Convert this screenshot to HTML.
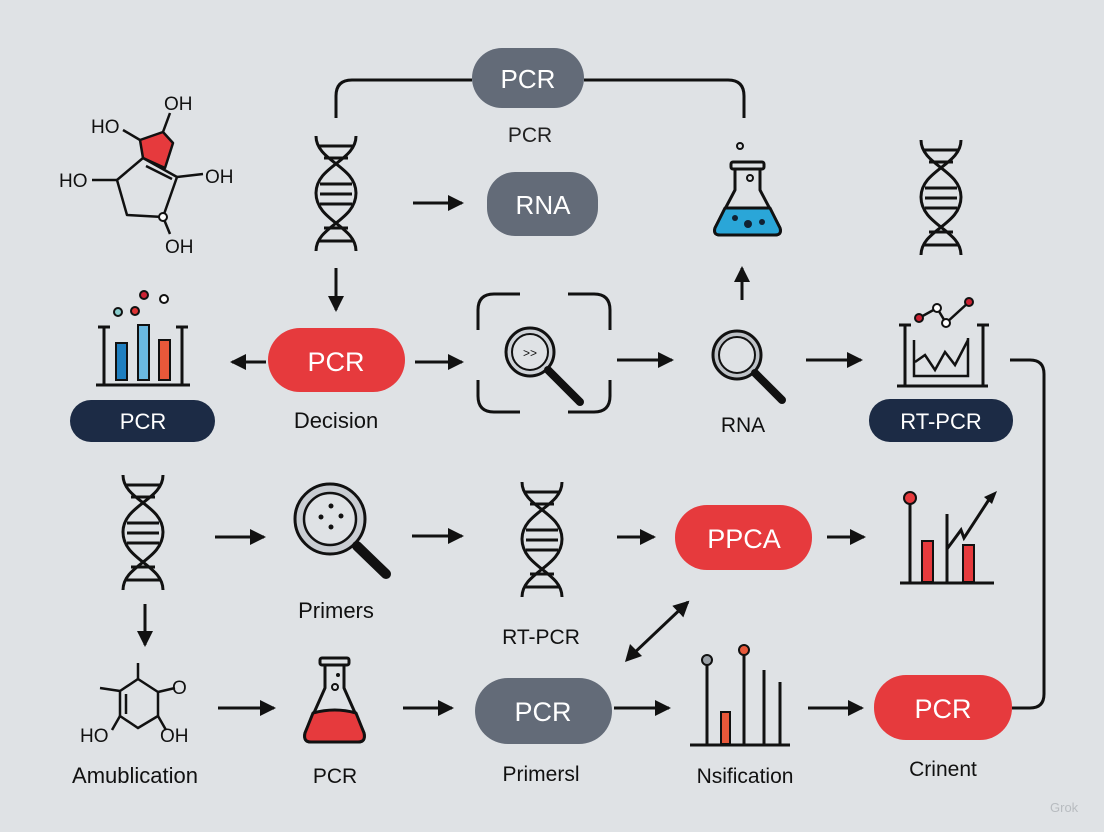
<!DOCTYPE html>
<html><head><meta charset="utf-8"><style>
html,body{margin:0;padding:0;background:#dfe2e5}
svg{display:block}
text{font-family:"Liberation Sans",sans-serif}
</style></head><body>
<svg width="1104" height="832" viewBox="0 0 1104 832" xmlns="http://www.w3.org/2000/svg">
<defs>
<marker id="ah2" markerWidth="16" markerHeight="16" refX="14" refY="8" orient="auto" markerUnits="userSpaceOnUse"><path d="M0,0 L16,8 L0,16 z" fill="#111"/></marker>
<g id="dna" fill="none" stroke="#111" stroke-width="3">
<path d="M0,0 C0,25 40,30 40,57 C40,85 0,90 0,115"/>
<path d="M40,0 C40,25 0,30 0,57 C0,85 40,90 40,115"/>
<path d="M2,10 H38 M8,22 H32 M4,48 H36 M4,58 H36 M4,68 H36 M8,92 H32 M2,105 H38"/>
</g>
</defs>
<rect width="1104" height="832" fill="#dfe2e5"/>

<path d="M336,118 V96 Q336,80 352,80 H472 M584,80 H728 Q744,80 744,96 V118" fill="none" stroke="#111" stroke-width="3"/>
<rect x="472" y="48" width="112" height="60" rx="30" fill="#636b78"/>
<text x="528" y="88" font-size="26" fill="#fff" text-anchor="middle">PCR</text>
<text x="530" y="142" font-size="21" fill="#222" text-anchor="middle">PCR</text>

<use href="#dna" x="316" y="136"/>
<line x1="413" y1="203" x2="462" y2="203" stroke="#111" stroke-width="3" marker-end="url(#ah2)"/>
<rect x="487" y="172" width="111" height="64" rx="28" fill="#636b78"/>
<text x="543" y="214" font-size="26" fill="#fff" text-anchor="middle">RNA</text>

<g stroke="#111" stroke-width="3" stroke-linejoin="round">
<path d="M735,168 V190 L715,228 Q713,235 720,235 H775 Q782,235 780,228 L760,190 V168 Z" fill="#dfe2e5"/>
<path d="M725,208 L770,208 L780,228 Q782,235 775,235 H720 Q713,235 715,228 Z" fill="#2aa6d8"/>
<rect x="731" y="162" width="33" height="7" rx="2" fill="#dfe2e5"/>
</g>
<circle cx="740" cy="146" r="3" fill="none" stroke="#111" stroke-width="2"/>
<circle cx="750" cy="178" r="3" fill="none" stroke="#111" stroke-width="2"/>
<circle cx="748" cy="224" r="4" fill="#123" /><circle cx="735" cy="218" r="3" fill="#123"/><circle cx="762" cy="222" r="3" fill="#123"/>

<use href="#dna" x="921" y="140"/>

<!-- molecule top-left -->
<g fill="none" stroke="#111" stroke-width="2.5" stroke-linejoin="round">
<path d="M140,140 L163,132 L173,143 L165,168 L143,158 Z" fill="#e63a3d"/>
<path d="M143,158 L117,180 L127,215 L163,217 L177,177 Z"/>
<path d="M146,166 L172,179"/>
<path d="M117,180 L92,180 M177,177 L203,174 M140,140 L123,130 M163,132 L170,113 M163,217 L170,234"/>
</g>
<circle cx="163" cy="217" r="4" fill="#fff" stroke="#111" stroke-width="2"/>
<g font-size="19" fill="#111">
<text x="91" y="133">HO</text><text x="164" y="110">OH</text>
<text x="59" y="187">HO</text><text x="205" y="183">OH</text>
<text x="165" y="253">OH</text></g>

<line x1="336" y1="268" x2="336" y2="310" stroke="#111" stroke-width="3" marker-end="url(#ah2)"/>

<g stroke="#111" stroke-width="3">
<path d="M104,327 V385 M98,327 H110 M182,327 V385 M176,327 H188 M96,385 H190" fill="none"/>
<rect x="116" y="343" width="11" height="37" fill="#1f7fc0" stroke-width="2"/>
<rect x="138" y="325" width="11" height="55" fill="#6ab8e0" stroke-width="2"/>
<rect x="159" y="340" width="11" height="40" fill="#e8583a" stroke-width="2"/>
</g>
<g stroke="#111" stroke-width="2"><circle cx="118" cy="312" r="4" fill="#8cc"/><circle cx="135" cy="311" r="4" fill="#d33"/><circle cx="144" cy="295" r="4" fill="#c23"/><circle cx="164" cy="299" r="4" fill="#fff"/></g>
<rect x="70" y="400" width="145" height="42" rx="21" fill="#1c2b45"/>
<text x="143" y="429" font-size="22" fill="#fff" text-anchor="middle">PCR</text>

<line x1="266" y1="362" x2="232" y2="362" stroke="#111" stroke-width="3" marker-end="url(#ah2)"/>
<rect x="268" y="328" width="137" height="64" rx="32" fill="#e63a3d"/>
<text x="336" y="371" font-size="27" fill="#fff" text-anchor="middle">PCR</text>
<text x="336" y="428" font-size="22" fill="#111" text-anchor="middle">Decision</text>
<line x1="415" y1="362" x2="462" y2="362" stroke="#111" stroke-width="3" marker-end="url(#ah2)"/>

<g fill="none" stroke="#111" stroke-width="3">
<path d="M478,330 V310 Q478,294 494,294 H520 M568,294 H594 Q610,294 610,310 V330 M478,380 V396 Q478,412 494,412 H520 M568,412 H594 Q610,412 610,396 V380"/>
<circle cx="530" cy="352" r="24" fill="#cfd3d8" stroke-width="3"/>
<circle cx="530" cy="352" r="18" fill="#dfe2e5" stroke-width="2"/>
<line x1="548" y1="370" x2="580" y2="402" stroke-width="8" stroke-linecap="round"/>
</g>
<text x="530" y="357" font-size="12" fill="#111" text-anchor="middle">&gt;&gt;</text>

<line x1="617" y1="360" x2="672" y2="360" stroke="#111" stroke-width="3" marker-end="url(#ah2)"/>
<line x1="742" y1="300" x2="742" y2="268" stroke="#111" stroke-width="3" marker-end="url(#ah2)"/>

<g fill="none" stroke="#111">
<circle cx="737" cy="355" r="24" fill="#bfc3c8" stroke-width="3"/>
<circle cx="737" cy="355" r="18" fill="#dfe2e5" stroke-width="2"/>
<line x1="755" y1="373" x2="782" y2="400" stroke-width="8" stroke-linecap="round"/>
</g>
<text x="743" y="432" font-size="21" fill="#111" text-anchor="middle">RNA</text>
<line x1="806" y1="360" x2="861" y2="360" stroke="#111" stroke-width="3" marker-end="url(#ah2)"/>

<g fill="none" stroke="#111" stroke-width="3">
<path d="M905,325 V385 M899,325 H911 M983,325 V385 M977,325 H989 M897,386 H988"/>
<path d="M914,340 V376 H968 V338" stroke-width="2.5"/>
<path d="M915,362 L925,355 L935,370 L945,352 L955,365 L968,340" stroke-width="2.5"/>
<path d="M919,318 L937,308 L946,323 L969,302" stroke-width="2.5"/>
</g>
<g stroke="#111" stroke-width="2"><circle cx="919" cy="318" r="4" fill="#c23"/><circle cx="937" cy="308" r="4" fill="#fff"/><circle cx="946" cy="323" r="4" fill="#fff"/><circle cx="969" cy="302" r="4" fill="#c23"/></g>
<rect x="869" y="399" width="144" height="43" rx="21" fill="#1c2b45"/>
<text x="941" y="429" font-size="22" fill="#fff" text-anchor="middle">RT-PCR</text>

<path d="M1010,360 H1030 Q1044,360 1044,374 V694 Q1044,708 1030,708 H1012" fill="none" stroke="#111" stroke-width="3"/>

<use href="#dna" x="123" y="475"/>
<line x1="215" y1="537" x2="264" y2="537" stroke="#111" stroke-width="3" marker-end="url(#ah2)"/>
<g fill="none" stroke="#111">
<circle cx="330" cy="519" r="35" fill="#c9cdd2" stroke-width="3"/>
<circle cx="330" cy="519" r="26" fill="#dfe2e5" stroke-width="2.5"/>
<line x1="357" y1="546" x2="386" y2="574" stroke-width="10" stroke-linecap="round"/>
</g>
<g fill="#111"><circle cx="331" cy="506" r="2.5"/><circle cx="321" cy="517" r="2.5"/><circle cx="341" cy="516" r="2.5"/><circle cx="331" cy="527" r="2.5"/></g>
<text x="336" y="618" font-size="22" fill="#111" text-anchor="middle">Primers</text>
<line x1="412" y1="536" x2="462" y2="536" stroke="#111" stroke-width="3" marker-end="url(#ah2)"/>
<use href="#dna" x="522" y="482"/>
<text x="541" y="644" font-size="21" fill="#111" text-anchor="middle">RT-PCR</text>
<line x1="617" y1="537" x2="654" y2="537" stroke="#111" stroke-width="3" marker-end="url(#ah2)"/>
<rect x="675" y="505" width="137" height="65" rx="32" fill="#e63a3d"/>
<text x="744" y="548" font-size="27" fill="#fff" text-anchor="middle">PPCA</text>
<line x1="827" y1="537" x2="864" y2="537" stroke="#111" stroke-width="3" marker-end="url(#ah2)"/>

<g stroke="#111" stroke-width="3" fill="none">
<path d="M900,583 H994 M910,502 V583 M947,514 V583"/>
<path d="M947,549 L961,530 L964,538 L990,498"/>
<rect x="922" y="541" width="11" height="41" fill="#e63a3d" stroke-width="2"/>
<rect x="963" y="545" width="11" height="37" fill="#e63a3d" stroke-width="2"/>
</g>
<path d="M997,491 L984,497 L992,504 Z" fill="#111"/>
<circle cx="910" cy="498" r="6" fill="#e63a3d" stroke="#111" stroke-width="2"/>

<line x1="632" y1="655" x2="688" y2="602" stroke="#111" stroke-width="3" marker-end="url(#ah2)"/>
<path d="M625,662 L630,644 L642,656 Z" fill="#111"/>

<line x1="145" y1="604" x2="145" y2="645" stroke="#111" stroke-width="3" marker-end="url(#ah2)"/>
<g fill="none" stroke="#111" stroke-width="2.5">
<path d="M138,679 L158,692 L158,716 L138,728 L120,716 L120,691 Z"/>
<path d="M126,694 L126,714 M138,679 V663 M120,691 L100,688 M158,692 L175,688 M158,716 L166,730 M120,716 L112,730"/>
</g>
<g font-size="19" fill="#111"><text x="172" y="694">O</text><text x="80" y="742">HO</text><text x="160" y="742">OH</text></g>
<text x="135" y="783" font-size="22" fill="#111" text-anchor="middle">Amublication</text>
<line x1="218" y1="708" x2="274" y2="708" stroke="#111" stroke-width="3" marker-end="url(#ah2)"/>

<g stroke="#111" stroke-width="3" stroke-linejoin="round">
<path d="M325,663 V688 L305,733 Q303,742 311,742 H358 Q366,742 364,733 L344,688 V663 Z" fill="#dfe2e5"/>
<path d="M313,713 Q335,707 356,713 L364,733 Q366,742 358,742 H311 Q303,742 305,733 Z" fill="#e63a3d"/>
<rect x="320" y="658" width="29" height="7" rx="2" fill="#dfe2e5"/>
</g>
<circle cx="338" cy="675" r="2" fill="#111"/><circle cx="335" cy="687" r="3" fill="none" stroke="#111" stroke-width="2"/>
<text x="335" y="783" font-size="21" fill="#111" text-anchor="middle">PCR</text>
<line x1="403" y1="708" x2="452" y2="708" stroke="#111" stroke-width="3" marker-end="url(#ah2)"/>
<rect x="475" y="678" width="137" height="66" rx="33" fill="#636b78"/>
<text x="543" y="721" font-size="27" fill="#fff" text-anchor="middle">PCR</text>
<text x="541" y="781" font-size="21" fill="#111" text-anchor="middle">Primersl</text>
<line x1="614" y1="708" x2="669" y2="708" stroke="#111" stroke-width="3" marker-end="url(#ah2)"/>

<g stroke="#111" stroke-width="3" fill="none">
<path d="M690,745 H790 M707,664 V745 M744,654 V745 M764,670 V745 M780,682 V745"/>
<rect x="721" y="712" width="9" height="32" fill="#e8583a" stroke-width="2"/>
</g>
<circle cx="707" cy="660" r="5" fill="#9aa0a6" stroke="#111" stroke-width="2"/>
<circle cx="744" cy="650" r="5" fill="#e8583a" stroke="#111" stroke-width="2"/>
<text x="745" y="783" font-size="21" fill="#111" text-anchor="middle">Nsification</text>
<line x1="808" y1="708" x2="862" y2="708" stroke="#111" stroke-width="3" marker-end="url(#ah2)"/>
<rect x="874" y="675" width="138" height="65" rx="32" fill="#e63a3d"/>
<text x="943" y="718" font-size="27" fill="#fff" text-anchor="middle">PCR</text>
<text x="943" y="776" font-size="21" fill="#111" text-anchor="middle">Crinent</text>

<text x="1050" y="812" font-size="13" fill="#b8bcc0">Grok</text>
</svg>
</body></html>
